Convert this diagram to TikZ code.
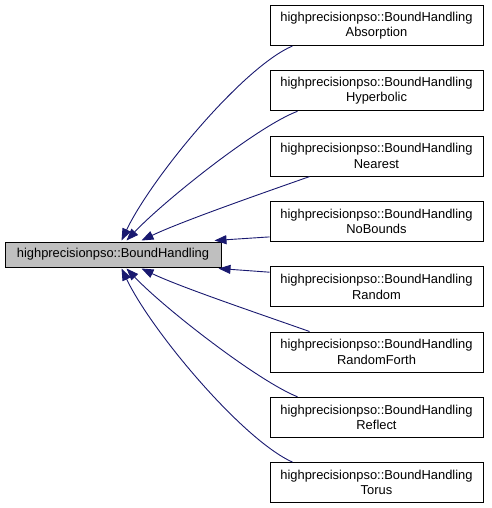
\documentclass[tikz,border=0pt]{standalone}
\usepackage{fontspec}
\setmainfont{Liberation Sans}
\usepackage{xcolor}
\usetikzlibrary{arrows.meta}
\definecolor{edgeblue}{HTML}{191970}
\definecolor{basegray}{HTML}{BFBFBF}

\begin{document}
\begin{tikzpicture}[x=1pt, y=-1pt, font=\fontsize{12.9}{15.5}\selectfont,
  cls/.style={draw, line width=1pt, inner sep=0pt, align=center},
  base/.style={cls, fill=basegray, minimum width=216pt, minimum height=25pt},
  sub/.style={cls, fill=white, minimum width=213pt, minimum height=40pt},
  inh/.style={draw=edgeblue, line width=0.9pt,
    -{Triangle[length=12pt, width=9pt, fill=edgeblue]}}]
\useasboundingbox (0,0) rectangle (491,508);
\node[base] (bh) at (113,254.5) {highprecisionpso::BoundHandling};
\foreach \nm [count=\k] in {Absorption,Hyperbolic,Nearest,NoBounds,Random,RandomForth,Reflect,Torus}
  \node[sub] (s\k) at (376.5,{25.5+65.3*(\k-1)}) {highprecisionpso::BoundHandling\\\nm};
% upper half
\draw[inh] ([xshift=23pt]s1.south west) .. controls (243,67) and (152,177) .. ([xshift=117pt, yshift=1pt]bh.north west);
\draw[inh] ([xshift=28pt]s2.south west) .. controls (258,126) and (165,200) .. ([xshift=122pt, yshift=1pt]bh.north west);
\draw[inh] ([xshift=40pt]s3.south west) .. controls (260,194) and (180,222) .. ([xshift=137pt, yshift=1pt]bh.north west);
\draw[inh] ([yshift=5pt]s4.south west) -- ([xshift=-7pt, yshift=1pt]bh.north east);
% lower half
\draw[inh] ([yshift=-6pt]s5.north west) -- ([xshift=-3pt, yshift=-1pt]bh.south east);
\draw[inh] ([xshift=40pt]s6.north west) .. controls (260,314) and (180,287) .. ([xshift=137pt, yshift=-1pt]bh.south west);
\draw[inh] ([xshift=28pt]s7.north west) .. controls (258,381) and (165,309) .. ([xshift=122pt, yshift=-1pt]bh.south west);
\draw[inh] ([xshift=23pt]s8.north west) .. controls (243,440) and (152,332) .. ([xshift=117pt, yshift=-1pt]bh.south west);
\end{tikzpicture}
\end{document}
